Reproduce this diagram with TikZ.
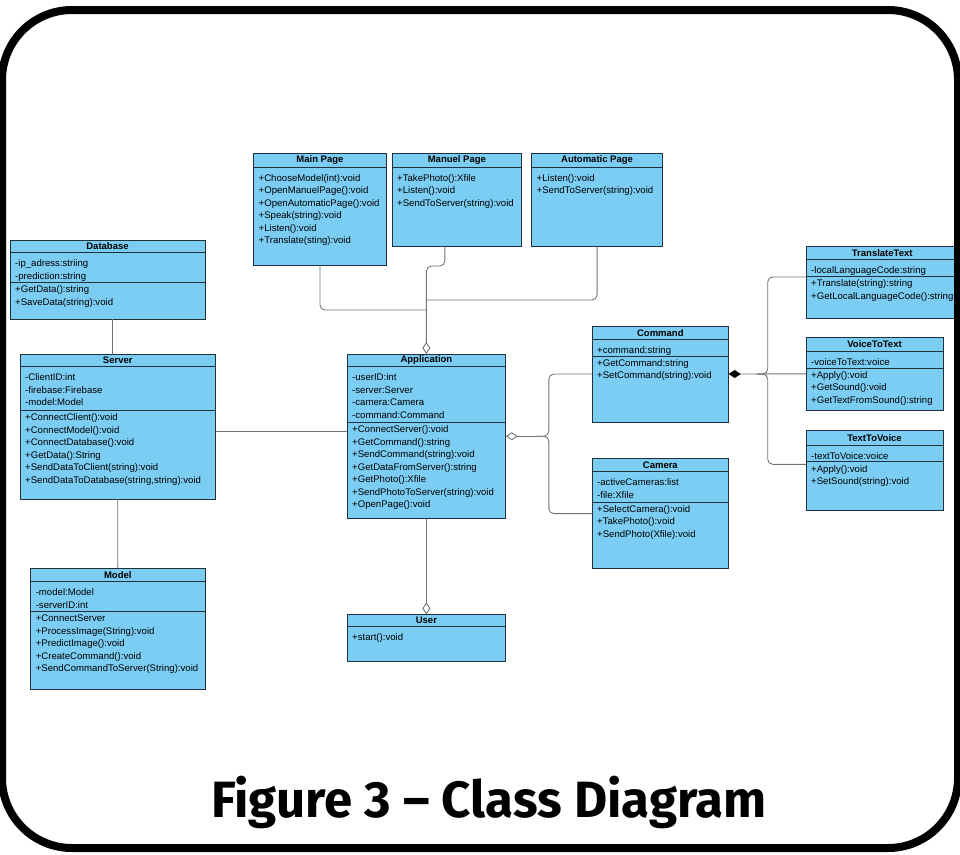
\documentclass[tikz,border=0pt]{standalone}
\usepackage{fontspec}
\setmainfont{Liberation Sans}
\newfontfamily\figfont{Fira Sans}
\usetikzlibrary{calc,arrows.meta}
\definecolor{umlblue}{HTML}{7BCDF3}
\definecolor{umlline}{HTML}{22303C}
\definecolor{linkgray}{HTML}{6F757A}
\tikzset{
	classbox/.style={draw=umlline, fill=umlblue, line width=0.9pt, inner sep=0pt, outer sep=0pt},
	classname/.style={font=\bfseries\fontsize{9.5}{11}\selectfont, inner sep=0pt},
	members/.style={anchor=north west, align=left, font=\fontsize{9.6}{12.5}\selectfont, inner xsep=5pt, inner ysep=0pt},
	firstsec/.style={members, yshift=-6.9pt},
	nextsec/.style={members, yshift=-3pt},
	sepline/.style={draw=umlline, line width=0.9pt},
	link/.style={draw=linkgray, line width=0.9pt, rounded corners=5pt},
	aggr/.style={-{Diamond[fill=white, length=12pt, width=8pt]}},
	comp/.style={-{Diamond[fill=black, color=black, length=12pt, width=8pt]}}
}
\def\umlclass(#1)(#2,#3)(#4,#5)(#6)#7{%
	\node[classbox, minimum width={#4-#2}, minimum height={#5-#3}] (#1) at ({(#2+#4)/2},{(#3+#5)/2}) {};
	\draw[sepline] (#2,#6) -- (#4,#6);
	\node[classname] at ({(#2+#4)/2},{(#3+#6)/2}) {#7};}
\def\umlsep(#1)(#2){\draw[sepline] (#1.west |- 0,#2) -- (#1.east |- 0,#2);}

\begin{document}
\begin{tikzpicture}[x=1pt, y=-1pt]
		%%%%% START %%%%%
		\useasboundingbox (0,0) rectangle (960,854);
		
		% database, server, model
		\umlclass(db)(10,240)(205,319)(252.5){Database}
		\umlsep(db)(282.5)
		\node[firstsec] at (db.west |- 0,252.5) {-ip\_adress:striing\\-prediction:string};
		\node[nextsec] at (db.west |- 0,282.5) {+GetData():string\\+SaveData(string):void};
		
		\umlclass(srv)(20,354)(215.5,499)(366.6){Server}
		\umlsep(srv)(410.5)
		\node[firstsec] at (srv.west |- 0,366.6) {-ClientID:int\\-firebase:Firebase\\-model:Model};
		\node[nextsec] at (srv.west |- 0,410.5) {+ConnectClient():void\\+ConnectModel():void\\+ConnectDatabase():void\\+GetData():String\\+SendDataToClient(string):void\\+SendDataToDatabase(string,string):void};
		
		\umlclass(mdl)(30.6,568)(205,689)(581.7){Model}
		\umlsep(mdl)(611.7)
		\node[firstsec] at (mdl.west |- 0,581.7) {-model:Model\\-serverID:int};
		\node[nextsec] at (mdl.west |- 0,611.7) {+ConnectServer\\+ProcessImage(String):void\\+PredictImage():void\\+CreateCommand():void\\+SendCommandToServer(String):void};
		
		% pages
		\umlclass(main)(253.5,153.6)(386.4,265)(167){Main Page}
		\node[firstsec] at (main.west |- 0,167) {+ChooseModel(int):void\\+OpenManuelPage():void\\+OpenAutomaticPage():void\\+Speak(string):void\\+Listen():void\\+Translate(sting):void};
		
		\umlclass(man)(392,153.6)(521.7,246.7)(167){Manuel Page}
		\node[firstsec] at (man.west |- 0,167) {+TakePhoto():Xfile\\+Listen():void\\+SendToServer(string):void};
		
		\umlclass(auto)(531.5,153.6)(662.6,246.7)(167){Automatic Page}
		\node[firstsec] at (auto.west |- 0,167) {+Listen():void\\+SendToServer(string):void};
		
		% application and user
		\umlclass(app)(347,354)(505.8,518.5)(366.6){Application}
		\umlsep(app)(422.6)
		\node[firstsec] at (app.west |- 0,366.6) {-userID:int\\-server:Server\\-camera:Camera\\-command:Command};
		\node[nextsec] at (app.west |- 0,422.6) {+ConnectServer():void\\+GetCommand():string\\+SendCommand(string):void\\+GetDataFromServer():string\\+GetPhoto():Xfile\\+SendPhotoToServer(string):void\\+OpenPage():void};
		
		\umlclass(user)(347,614.4)(505.8,661)(626.4){User}
		\node[firstsec] at (user.west |- 0,626.4) {+start():void};
		
		% command and camera
		\umlclass(cmd)(592,326)(728.7,422)(339.3){Command}
		\umlsep(cmd)(356.2)
		\node[firstsec] at (cmd.west |- 0,339.3) {+command:string};
		\node[nextsec] at (cmd.west |- 0,356.2) {+GetCommand:string\\+SetCommand(string):void};
		
		\umlclass(cam)(592,458.6)(728.7,568.6)(471.7){Camera}
		\umlsep(cam)(502)
		\node[firstsec] at (cam.west |- 0,471.7) {-activeCameras:list\\-file:Xfile};
		\node[nextsec] at (cam.west |- 0,502) {+SelectCamera():void\\+TakePhoto():void\\+SendPhoto(Xfile):void};
		
		% text and voice
		\umlclass(tr)(806,246)(958.4,318.6)(259.3){TranslateText}
		\umlsep(tr)(276.7)
		\node[firstsec] at (tr.west |- 0,259.3) {-localLanguageCode:string};
		\node[nextsec] at (tr.west |- 0,276.7) {+Translate(string):string\\+GetLocalLanguageCode():string};
		
		\umlclass(vt)(806,337)(943,410.7)(351.3){VoiceToText}
		\umlsep(vt)(368.2)
		\node[firstsec] at (vt.west |- 0,351.3) {-voiceToText:voice};
		\node[nextsec] at (vt.west |- 0,368.2) {+Apply():void\\+GetSound():void\\+GetTextFromSound():string};
		
		\umlclass(ttv)(806,430.3)(943,510.3)(445){TextToVoice}
		\umlsep(ttv)(461.9)
		\node[firstsec] at (ttv.west |- 0,445) {-textToVoice:voice};
		\node[nextsec] at (ttv.west |- 0,461.9) {+Apply():void\\+SetSound(string):void};
		
		% connectors
		\draw[link] ($(db.south)+(4.5,0)$) coordinate (dbs) -- (dbs |- srv.north);
		\draw[link] (srv.south) -- (mdl.north);
		\draw[link] ($(srv.east)+(0,4.5)$) coordinate (srve) -- (srve -| app.west);
		
		\draw[link] (main.south) |- ($(app.north)+(0,-44)$);
		\draw[link] (auto.south) |- ($(app.north)+(0,-54)$);
		\draw[link, aggr] ($(man.south)+(-12,0)$) |- ($(app.north)+(0,-88)$) -- (app.north);
		\draw[link, aggr] (app.south) -- (user.north);
		
		\draw[link] (cmd.west) -| ($(app.east)+(43,0)$) -- ($(app.east)+(30,0)$);
		\draw[link] (cam.west) -| ($(app.east)+(43,0)$) -- ($(app.east)+(30,0)$);
		\draw[link, aggr] ($(app.east)+(31,0)$) -- (app.east);
		
		\draw[link] ($(tr.north west)+(0,31)$) -| ($(cmd.east)+(39,0)$) -- ($(cmd.east)+(28,0)$);
		\draw[link] ($(ttv.north west)+(0,34)$) -| ($(cmd.east)+(39,0)$) -- ($(cmd.east)+(28,0)$);
		\draw[link, comp] (vt.west) -- (cmd.east);
		
		% caption and frame
		\node[font=\figfont\bfseries\fontsize{51}{53}\selectfont, anchor=base] (figtitle) at (489,817) {Figure 3 – Class Diagram};
		\draw[line width=8pt, rounded corners=70pt] (2,10) rectangle (958,848);
		%%%%% END %%%%%
\end{tikzpicture}
\end{document}
